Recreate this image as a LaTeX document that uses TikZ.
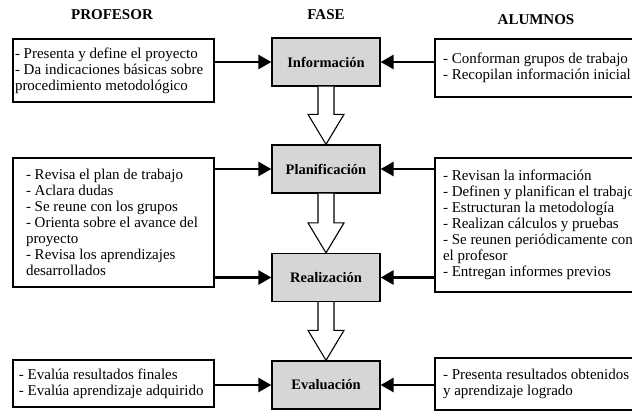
\documentclass[tikz,border=0pt]{standalone}
\usepackage{fontspec}
\setmainfont{Liberation Serif}
\usetikzlibrary{arrows.meta,calc}

\tikzset{
  header/.style={font=\fontsize{15}{17}\selectfont\bfseries},
  phase/.style={draw, line width=1.3pt, fill=black!16, minimum width=108pt, minimum height=48pt,
    font=\fontsize{14.5}{16}\selectfont\bfseries},
  txtbox/.style={draw, line width=1.2pt, fill=white, align=left, inner sep=0pt,
    font=\fontsize{15}{16}\selectfont},
  conn/.style={line width=2.8pt, -{Triangle[length=13pt,width=14pt]}},
  bigarrow/.style={draw, line width=1.1pt, fill=white, line join=miter}
}

\begin{document}
\begin{tikzpicture}[x=1pt,y=-1pt]
  \useasboundingbox (0,0) rectangle (632,411);
  \clip (0,0) rectangle (632,411);

  % column headers
  \node[header] (hprof) at (112,15) {PROFESOR};
  \node[header] (hfase) at (326,15) {FASE};
  \node[header] (halum) at (536,20) {ALUMNOS};

  % phases
  \node[phase] (info) at (326,62) {Información};
  \node[phase] (plan) at (326,169) {Planificación};
  \node[phase] (real) at (326,277.5) {Realización};
  \node[phase] (eval) at (326,385) {Evaluación};

  % profesor
  \node[txtbox, minimum width=201pt, minimum height=63pt] (prof1) at (113.5,70.5)
    {\parbox{197pt}{- Presenta y define el proyecto\\- Da indicaciones básicas sobre\\procedimiento metodológico}};
  \node[txtbox, minimum width=201pt, minimum height=129pt] (prof2) at (113.5,222.5)
    {\parbox{175pt}{- Revisa el plan de trabajo\\- Aclara dudas\\- Se reune con los grupos\\- Orienta sobre el avance del\\proyecto\\- Revisa los aprendizajes\\desarrollados}};
  \node[txtbox, minimum width=201pt, minimum height=47pt] (prof3) at (113.5,383.5)
    {\parbox{189pt}{- Evalúa resultados finales\\- Evalúa aprendizaje adquirido}};

  % alumnos
  \node[txtbox, minimum width=210pt, minimum height=58pt] (alum1) at (540,68)
    {\parbox{194pt}{- Conforman grupos de trabajo\\- Recopilan información inicial}};
  \node[txtbox, minimum width=210pt, minimum height=134pt] (alum2) at (540,225)
    {\parbox{194pt}{- Revisan la información\\- Definen y planifican el trabajo\\- Estructuran la metodología\\- Realizan cálculos y pruebas\\- Se reunen periódicamente con\\el profesor\\- Entregan informes previos}};
  \node[txtbox, minimum width=210pt, minimum height=52pt] (alum3) at (540,384)
    {\parbox{194pt}{- Presenta resultados obtenidos\\y aprendizaje logrado}};

  % side connectors
  \draw[conn] (prof1.east |- info.west) -- (info.west);
  \draw[conn] (alum1.west |- info.east) -- (info.east);
  \draw[conn] (prof2.east |- plan.west) -- (plan.west);
  \draw[conn] (alum2.west |- plan.east) -- (plan.east);
  \draw[conn] (prof2.east |- real.west) -- (real.west);
  \draw[conn] (alum2.west |- real.east) -- (real.east);
  \draw[conn] (prof3.east |- eval.west) -- (eval.west);
  \draw[conn] (alum3.west |- eval.east) -- (eval.east);

  % phase flow
  \foreach \a/\b in {info/plan, plan/real, real/eval}{
    \draw[bigarrow] ($(\a.south)+(-8,0)$) -- ($(\b.north)+(-8,-30)$) -- ($(\b.north)+(-18,-30)$)
      -- (\b.north) -- ($(\b.north)+(18,-30)$) -- ($(\b.north)+(8,-30)$) -- ($(\a.south)+(8,0)$);
  }
\end{tikzpicture}
\end{document}
